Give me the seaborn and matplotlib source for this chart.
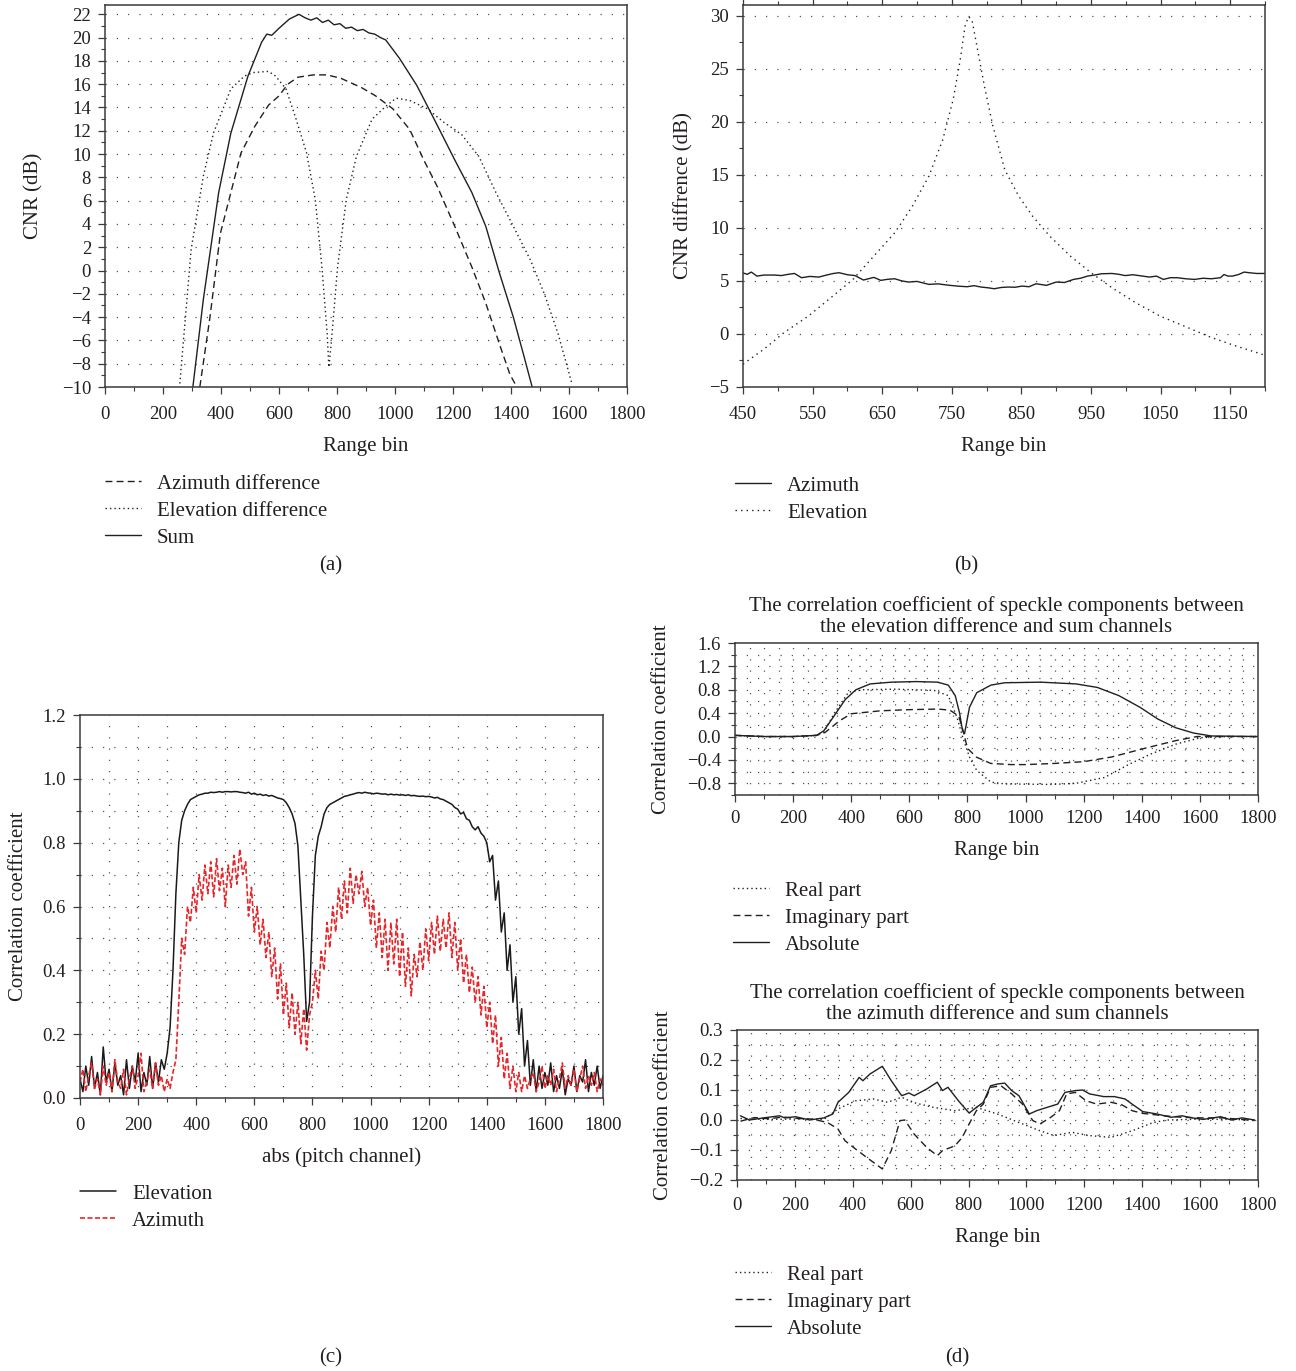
import numpy as np
import matplotlib
matplotlib.use("Agg")
import matplotlib.pyplot as plt
import seaborn as sns
from matplotlib.ticker import MultipleLocator, FuncFormatter

# ---------------- data ----------------
# (a) CNR per channel
a_sum_x = [303, 339, 392, 434, 493, 540, 558, 575, 600, 636, 669, 690, 710, 730, 750, 770, 790, 810, 830, 850,
           870, 890, 910, 930, 950, 968, 1016, 1075, 1135, 1206, 1265, 1313, 1360, 1408, 1443, 1473]
a_sum_y = [-10.0, -2.5, 6.7, 11.8, 16.7, 19.6, 20.3, 20.2, 20.8, 21.6, 22.0, 21.7, 21.5, 21.7, 21.3, 21.5, 21.1,
           21.2, 20.8, 20.9, 20.6, 20.7, 20.4, 20.3, 20.0, 19.8, 18.2, 15.9, 13.0, 9.5, 6.7, 3.8, -0.2, -4.0, -7.2, -10.0]
a_az_x = [327, 362, 398, 434, 469, 517, 564, 600, 630, 665, 719, 766, 814, 885, 933, 992, 1051, 1099, 1146, 1206,
          1265, 1313, 1360, 1396, 1420]
a_az_y = [-10.0, -4.0, 3.2, 6.7, 10.1, 12.4, 14.2, 15.0, 16.0, 16.6, 16.8, 16.8, 16.5, 15.7, 15.0, 13.9, 12.1, 9.5,
          7.2, 3.8, 0.3, -2.8, -6.3, -8.9, -10.0]
a_el_x = [258, 297, 339, 374, 434, 481, 511, 564, 588, 624, 659, 695, 725, 748, 766, 772, 780, 802, 832, 867, 921,
          968, 1004, 1051, 1111, 1170, 1229, 1289, 1348, 1408, 1467, 1515, 1562, 1610]
a_el_y = [-9.7, 1.8, 8.1, 11.8, 15.6, 16.7, 17.0, 17.1, 16.7, 15.6, 13.0, 10.1, 6.1, 0.3, -5.4, -8.3, -6.3, 0.3, 6.1,
          9.8, 13.0, 14.1, 14.8, 14.6, 13.9, 12.7, 11.7, 9.8, 6.7, 3.8, 0.9, -2.0, -5.4, -9.7]

# (b) CNR difference
b_az_x = [450, 456, 462, 470, 480, 495, 505, 515, 524, 534, 546, 559, 570, 580, 588, 600, 611, 623, 638, 648, 658,
          668, 678, 688, 700, 717, 730, 747, 760, 772, 782, 792, 802, 811, 821, 831, 841, 851, 861, 871, 886, 900,
          912, 925, 935, 945, 955, 965, 980, 990, 999, 1010, 1019, 1034, 1044, 1054, 1064, 1074, 1086, 1099, 1111,
          1123, 1136, 1141, 1147, 1153, 1162, 1170, 1180, 1188, 1200]
b_az_y = [5.75, 5.62, 5.83, 5.45, 5.55, 5.55, 5.50, 5.62, 5.70, 5.30, 5.42, 5.36, 5.55, 5.70, 5.77, 5.58, 5.50, 5.08,
          5.33, 5.05, 5.15, 5.20, 5.00, 4.89, 4.95, 4.67, 4.72, 4.58, 4.50, 4.45, 4.55, 4.42, 4.35, 4.26, 4.38, 4.42,
          4.40, 4.51, 4.45, 4.73, 4.58, 4.89, 4.85, 5.14, 5.25, 5.45, 5.55, 5.67, 5.70, 5.62, 5.50, 5.58, 5.50, 5.36,
          5.45, 5.14, 5.30, 5.30, 5.20, 5.14, 5.25, 5.20, 5.30, 5.60, 5.45, 5.45, 5.60, 5.83, 5.75, 5.70, 5.70]
b_el_x = [450, 480, 509, 544, 579, 608, 638, 668, 693, 717, 737, 752, 762, 769, 774, 779, 787, 797, 809, 826, 846,
          866, 891, 921, 950, 980, 1014, 1049, 1089, 1123, 1158, 1200]
b_el_y = [-2.85, -1.44, 0.13, 1.69, 3.57, 5.14, 7.34, 9.53, 12.0, 14.86, 18.3, 22.1, 25.8, 29.0, 29.9, 29.6, 26.8,
          23.3, 19.6, 15.5, 13.0, 11.1, 9.2, 7.3, 5.77, 4.36, 2.95, 1.69, 0.6, -0.34, -1.13, -2.0]

# (c) correlation coefficient, one value per 10 range bins (rows of 100 bins)
c_bins = np.arange(0, 1801, 10)
c_elev = [0.06, 0.02, 0.10, 0.04, 0.13, 0.03, 0.08, 0.01, 0.16, 0.05,
          0.09, 0.02, 0.11, 0.04, 0.07, 0.01, 0.12, 0.03, 0.10, 0.05,
          0.14, 0.02, 0.08, 0.04, 0.13, 0.03, 0.11, 0.05, 0.12, 0.09,
          0.14, 0.22, 0.40, 0.64, 0.80, 0.87, 0.90, 0.92, 0.935, 0.94,
          0.945, 0.95, 0.952, 0.955, 0.955, 0.958, 0.957, 0.958, 0.96, 0.958,
          0.96, 0.96, 0.959, 0.96, 0.96, 0.958, 0.957, 0.955, 0.958, 0.952,
          0.955, 0.95, 0.952, 0.948, 0.95, 0.946, 0.948, 0.944, 0.94, 0.938,
          0.935, 0.925, 0.91, 0.89, 0.86, 0.79, 0.62, 0.45, 0.24, 0.30,
          0.57, 0.76, 0.82, 0.85, 0.89, 0.91, 0.92, 0.925, 0.93, 0.935,
          0.94, 0.945, 0.947, 0.95, 0.952, 0.955, 0.957, 0.955, 0.958, 0.956,
          0.955, 0.953, 0.955, 0.954, 0.952, 0.953, 0.95, 0.952, 0.95, 0.951,
          0.949, 0.95, 0.948, 0.95, 0.947, 0.948, 0.946, 0.945, 0.946, 0.944,
          0.945, 0.943, 0.94, 0.942, 0.937, 0.935, 0.93, 0.925, 0.92, 0.91,
          0.905, 0.89, 0.895, 0.875, 0.87, 0.85, 0.84, 0.85, 0.83, 0.82,
          0.80, 0.74, 0.76, 0.62, 0.68, 0.52, 0.58, 0.40, 0.48, 0.30,
          0.38, 0.20, 0.28, 0.10, 0.18, 0.04, 0.12, 0.02, 0.10, 0.03,
          0.08, 0.04, 0.11, 0.02, 0.07, 0.03, 0.09, 0.01, 0.06, 0.04,
          0.10, 0.02, 0.07, 0.05, 0.12, 0.02, 0.08, 0.04, 0.10, 0.03,
          0.07]
c_azim = [0.05, 0.09, 0.02, 0.07, 0.11, 0.03, 0.06, 0.01, 0.10, 0.04,
          0.08, 0.02, 0.12, 0.05, 0.03, 0.09, 0.01, 0.06, 0.10, 0.03,
          0.07, 0.14, 0.02, 0.05, 0.09, 0.03, 0.11, 0.04, 0.07, 0.02,
          0.06, 0.03, 0.08, 0.12, 0.30, 0.50, 0.45, 0.60, 0.55, 0.66,
          0.58, 0.70, 0.62, 0.73, 0.64, 0.74, 0.63, 0.75, 0.65, 0.72,
          0.60, 0.73, 0.66, 0.76, 0.67, 0.78, 0.70, 0.74, 0.57, 0.66,
          0.52, 0.60, 0.48, 0.56, 0.44, 0.52, 0.38, 0.47, 0.31, 0.42,
          0.26, 0.36, 0.22, 0.33, 0.20, 0.30, 0.17, 0.28, 0.15, 0.26,
          0.30, 0.40, 0.31, 0.46, 0.40, 0.55, 0.47, 0.60, 0.52, 0.66,
          0.56, 0.68, 0.58, 0.72, 0.61, 0.70, 0.64, 0.71, 0.60, 0.66,
          0.54, 0.62, 0.47, 0.58, 0.44, 0.56, 0.40, 0.55, 0.42, 0.56,
          0.38, 0.52, 0.35, 0.47, 0.32, 0.45, 0.38, 0.49, 0.40, 0.53,
          0.43, 0.55, 0.45, 0.57, 0.46, 0.56, 0.47, 0.58, 0.44, 0.55,
          0.40, 0.50, 0.36, 0.45, 0.33, 0.41, 0.30, 0.38, 0.26, 0.35,
          0.22, 0.30, 0.17, 0.26, 0.10, 0.19, 0.06, 0.14, 0.03, 0.10,
          0.02, 0.08, 0.02, 0.07, 0.03, 0.06, 0.08, 0.02, 0.05, 0.10,
          0.03, 0.07, 0.04, 0.09, 0.02, 0.06, 0.11, 0.03, 0.07, 0.04,
          0.09, 0.02, 0.06, 0.10, 0.03, 0.07, 0.04, 0.08, 0.02, 0.06,
          0.04]

# (d) top: elevation difference vs sum
d1_abs_x = [0, 100, 200, 281, 306, 342, 379, 416, 465, 538, 624, 697, 734, 758, 773, 783, 790, 807, 832, 881, 929,
            1052, 1174, 1247, 1321, 1394, 1455, 1517, 1578, 1639, 1800]
d1_abs_y = [0.02, 0.0, 0.0, 0.02, 0.10, 0.36, 0.63, 0.80, 0.90, 0.93, 0.94, 0.93, 0.88, 0.70, 0.40, 0.10, 0.05,
            0.50, 0.75, 0.88, 0.92, 0.93, 0.90, 0.84, 0.70, 0.50, 0.30, 0.15, 0.06, 0.01, 0.0]
d1_re_x = [0, 100, 200, 281, 306, 342, 391, 440, 550, 685, 734, 764, 783, 807, 832, 881, 929, 1088, 1174, 1272,
           1358, 1431, 1517, 1602, 1700, 1800]
d1_re_y = [0.02, 0.0, 0.0, 0.02, 0.08, 0.40, 0.76, 0.80, 0.81, 0.79, 0.70, 0.33, 0.0, -0.35, -0.58, -0.78, -0.81,
           -0.82, -0.80, -0.70, -0.47, -0.30, -0.13, -0.02, 0.0, 0.0]
d1_im_x = [0, 100, 200, 281, 310, 360, 400, 500, 600, 700, 740, 770, 785, 790, 800, 830, 880, 950, 1000, 1100,
           1200, 1296, 1419, 1517, 1590, 1700, 1800]
d1_im_y = [0.02, 0.0, 0.0, 0.02, 0.07, 0.27, 0.39, 0.44, 0.46, 0.47, 0.45, 0.35, 0.10, 0.0, -0.20, -0.35, -0.46,
           -0.48, -0.48, -0.46, -0.43, -0.35, -0.19, -0.07, 0.0, 0.0, 0.0]

# (d) bottom: azimuth difference vs sum
d2_abs_x = [12, 43, 92, 147, 165, 202, 251, 300, 331, 349, 386, 422, 435, 459, 502, 533, 569, 594, 612, 655, 692,
            710, 729, 765, 802, 827, 851, 876, 900, 925, 949, 974, 1010, 1035, 1071, 1108, 1133, 1169, 1194, 1218,
            1267, 1304, 1341, 1365, 1402, 1451, 1500, 1537, 1573, 1610, 1671, 1708, 1745, 1788]
d2_abs_y = [0.014, 0.0, 0.007, 0.014, 0.007, 0.011, 0.0, 0.007, 0.02, 0.059, 0.092, 0.142, 0.131, 0.153, 0.179,
            0.131, 0.081, 0.09, 0.081, 0.103, 0.126, 0.098, 0.109, 0.064, 0.023, 0.042, 0.059, 0.114, 0.12, 0.123,
            0.098, 0.081, 0.02, 0.031, 0.042, 0.053, 0.092, 0.098, 0.10, 0.087, 0.078, 0.078, 0.07, 0.053, 0.028,
            0.02, 0.009, 0.014, 0.007, 0.002, 0.011, 0.0, 0.007, 0.0]
d2_re_x = [12, 100, 200, 300, 349, 410, 471, 520, 569, 606, 679, 753, 827, 900, 986, 1047, 1096, 1157, 1218, 1292,
           1365, 1439, 1488, 1600, 1700, 1788]
d2_re_y = [0.005, 0.002, 0.003, 0.002, 0.037, 0.064, 0.07, 0.059, 0.076, 0.059, 0.042, 0.031, 0.042, 0.02, -0.013,
           -0.036, -0.052, -0.041, -0.052, -0.058, -0.036, -0.008, 0.0, 0.003, 0.002, 0.0]
d2_im_x = [12, 60, 110, 160, 210, 260, 312, 349, 373, 410, 447, 502, 533, 563, 580, 612, 655, 692, 710, 753, 778,
           802, 827, 851, 876, 912, 949, 986, 1022, 1047, 1084, 1114, 1139, 1169, 1206, 1243, 1292, 1329, 1365,
           1402, 1476, 1537, 1610, 1682, 1788]
d2_im_y = [-0.004, 0.008, 0.004, 0.01, 0.005, 0.003, -0.008, -0.03, -0.069, -0.097, -0.124, -0.163, -0.102,
           -0.002, 0.0, -0.047, -0.091, -0.119, -0.102, -0.086, -0.058, -0.013, 0.031, 0.053, 0.109, 0.114, 0.087,
           0.053, -0.002, -0.013, 0.009, 0.031, 0.087, 0.092, 0.064, 0.053, 0.059, 0.051, 0.031, 0.022, 0.014,
           0.009, 0.007, 0.007, -0.002]

# ---------------- style ----------------
sns.set_theme(style="ticks")
plt.rcParams["font.family"] = ["Liberation Serif", "DejaVu Serif"]
plt.rcParams["axes.unicode_minus"] = True

W, H = 1296, 1371
fig = plt.figure(figsize=(W / 100, H / 100), dpi=100)
INK = "#231f20"
SPINE = "#3a3a3a"
TICK_FS = 13.5
LAB_FS = 15


def px_axes(l, t, r, b):
    return fig.add_axes([l / W, 1 - b / H, (r - l) / W, (b - t) / H])


def style(ax, xpad=8.5):
    for s in ax.spines.values():
        s.set_visible(True)
        s.set_color(SPINE)
        s.set_linewidth(1.1)
    ax.tick_params(which="major", direction="out", length=5, width=0.9, color=SPINE,
                   labelsize=TICK_FS, pad=5, labelcolor=INK)
    ax.tick_params(which="minor", direction="out", length=3, width=0.8, color=SPINE)
    ax.tick_params(axis="x", which="major", pad=xpad)
    ax.set_facecolor("white")


def dotgrid(ax, xs=(), ys=()):
    for y in ys:
        ax.axhline(y, color="#555555", lw=0.9, ls=(0, (1, 8)), zorder=0)
    for x in xs:
        ax.axvline(x, color="#555555", lw=0.9, ls=(0, (1, 8)), zorder=0)


def minus_fmt(fmt):
    return FuncFormatter(lambda v, p: (fmt % v).replace("-", "\u2212") if abs(v) > 1e-9 else fmt % 0)


def line(ax, x, y, ls, color=INK, lw=1.0):
    sns.lineplot(x=x, y=y, ax=ax, color=color, lw=lw, linestyle=ls, sort=False, estimator=None)
    return ax.lines[-1]


def legend(handles, labels, x, ytop):
    fig.legend(handles, labels, loc="upper left", bbox_to_anchor=(x / W, 1 - ytop / H),
               bbox_transform=fig.transFigure, frameon=False, fontsize=LAB_FS, handlelength=1.75,
               handletextpad=0.75, labelspacing=0.36, borderpad=0, borderaxespad=0, labelcolor=INK)


DASH = (0, (5, 3))
DOT = (0, (1, 2.2))

# ---------------- (a) ----------------
ax = px_axes(105, 5, 627, 387)
style(ax)
dotgrid(ax, ys=np.arange(-8, 23, 2))
h1 = line(ax, a_az_x, a_az_y, DASH)
h2 = line(ax, a_el_x, a_el_y, DOT)
h3 = line(ax, a_sum_x, a_sum_y, "-")
ax.set_xlim(0, 1800)
ax.set_ylim(-10, 22.8)
ax.xaxis.set_major_locator(MultipleLocator(200))
ax.xaxis.set_minor_locator(MultipleLocator(100))
ax.yaxis.set_major_locator(MultipleLocator(2))
ax.yaxis.set_minor_locator(MultipleLocator(1))
ax.yaxis.set_major_formatter(minus_fmt("%d"))
ax.set_xlabel("Range bin", fontsize=LAB_FS, color=INK)
ax.set_ylabel("CNR (dB)", fontsize=LAB_FS, color=INK)
ax.xaxis.set_label_coords(0.5, -0.13)
ax.yaxis.set_label_coords(-0.118, 0.5)
legend([h1, h2, h3], ["Azimuth difference", "Elevation difference", "Sum"], 105, 474)
fig.text(331 / W, 1 - 566 / H, "(a)", ha="center", va="center", fontsize=LAB_FS, color=INK)

# ---------------- (b) ----------------
ax = px_axes(743, 5, 1265, 387)
style(ax)
dotgrid(ax, ys=np.arange(0, 31, 5))
h1 = line(ax, b_az_x, b_az_y, "-")
h2 = line(ax, b_el_x, b_el_y, (0, (1, 3)))
ax.set_xlim(450, 1200)
ax.set_ylim(-5, 31)
ax.set_xticks(np.arange(450, 1151, 100))
ax.xaxis.set_minor_locator(MultipleLocator(50))
ax.yaxis.set_major_locator(MultipleLocator(5))
ax.yaxis.set_minor_locator(MultipleLocator(2.5))
ax.yaxis.set_major_formatter(minus_fmt("%d"))
ax.tick_params(which="both", top=True)
ax.set_xlabel("Range bin", fontsize=LAB_FS, color=INK)
ax.set_ylabel("CNR diffrence (dB)", fontsize=LAB_FS, color=INK)
ax.xaxis.set_label_coords(0.5, -0.13)
ax.yaxis.set_label_coords(-0.094, 0.5)
legend([h1, h2], ["Azimuth", "Elevation"], 735, 476)
fig.text(966 / W, 1 - 566 / H, "(b)", ha="center", va="center", fontsize=LAB_FS, color=INK)

# ---------------- (c) ----------------
ax = px_axes(80, 715, 603, 1098)
style(ax)
dotgrid(ax, xs=np.arange(100, 1800, 100), ys=np.arange(0.1, 1.15, 0.1))
h1 = line(ax, c_bins, c_elev, "-", color="#1a1a1a", lw=1.1)
h2 = line(ax, c_bins, c_azim, (0, (3, 1.5)), color="#e8262a", lw=1.2)
ax.set_xlim(0, 1800)
ax.set_ylim(0, 1.2)
ax.xaxis.set_major_locator(MultipleLocator(200))
ax.xaxis.set_minor_locator(MultipleLocator(100))
ax.yaxis.set_major_locator(MultipleLocator(0.2))
ax.yaxis.set_minor_locator(MultipleLocator(0.1))
ax.yaxis.set_major_formatter(minus_fmt("%.1f"))
ax.set_xlabel("abs (pitch channel)", fontsize=LAB_FS, color=INK)
ax.set_ylabel("Correlation coefficient", fontsize=LAB_FS, color=INK)
ax.xaxis.set_label_coords(0.5, -0.128)
ax.yaxis.set_label_coords(-0.099, 0.5)
legend([h1, h2], ["Elevation", "Azimuth"], 80, 1184)
fig.text(331 / W, 1 - 1358 / H, "(c)", ha="center", va="center", fontsize=LAB_FS, color=INK)

# ---------------- (d) top ----------------
ax = px_axes(735, 643, 1258, 795)
style(ax, xpad=6)
dotgrid(ax, xs=np.arange(50, 1800, 50), ys=np.arange(-0.8, 1.5, 0.2))
h1 = line(ax, d1_re_x, d1_re_y, DOT)
h2 = line(ax, d1_im_x, d1_im_y, DASH)
h3 = line(ax, d1_abs_x, d1_abs_y, "-")
ax.set_xlim(0, 1800)
ax.set_ylim(-1.0, 1.6)
ax.xaxis.set_major_locator(MultipleLocator(200))
ax.xaxis.set_minor_locator(MultipleLocator(100))
ax.set_yticks([-0.8, -0.4, 0.0, 0.4, 0.8, 1.2, 1.6])
ax.yaxis.set_minor_locator(MultipleLocator(0.2))
ax.yaxis.set_major_formatter(minus_fmt("%.1f"))
ax.set_title("The correlation coefficient of speckle components between\nthe elevation difference and sum channels",
             fontsize=LAB_FS, color=INK, pad=8, linespacing=1.15)
ax.set_xlabel("Range bin", fontsize=LAB_FS, color=INK)
ax.set_ylabel("Correlation coefficient", fontsize=LAB_FS, color=INK)
ax.xaxis.set_label_coords(0.5, -0.305)
ax.yaxis.set_label_coords(-0.122, 0.5)
legend([h1, h2, h3], ["Real part", "Imaginary part", "Absolute"], 733, 881)

# ---------------- (d) bottom ----------------
ax = px_axes(737, 1030, 1258, 1180)
style(ax, xpad=7)
dotgrid(ax, xs=np.arange(50, 1800, 50), ys=np.arange(-0.15, 0.26, 0.05))
h1 = line(ax, d2_re_x, d2_re_y, DOT)
h2 = line(ax, d2_im_x, d2_im_y, DASH)
h3 = line(ax, d2_abs_x, d2_abs_y, "-")
ax.set_xlim(0, 1800)
ax.set_ylim(-0.2, 0.3)
ax.xaxis.set_major_locator(MultipleLocator(200))
ax.xaxis.set_minor_locator(MultipleLocator(100))
ax.yaxis.set_major_locator(MultipleLocator(0.1))
ax.yaxis.set_minor_locator(MultipleLocator(0.05))
ax.yaxis.set_major_formatter(minus_fmt("%.1f"))
ax.set_title("The correlation coefficient of speckle components between\nthe azimuth difference and sum channels",
             fontsize=LAB_FS, color=INK, pad=8, linespacing=1.15)
ax.set_xlabel("Range bin", fontsize=LAB_FS, color=INK)
ax.set_ylabel("Correlation coefficient", fontsize=LAB_FS, color=INK)
ax.xaxis.set_label_coords(0.5, -0.32)
ax.yaxis.set_label_coords(-0.123, 0.5)
legend([h1, h2, h3], ["Real part", "Imaginary part", "Absolute"], 735, 1265)
fig.text(957 / W, 1 - 1358 / H, "(d)", ha="center", va="center", fontsize=LAB_FS, color=INK)

fig.savefig("out.png", dpi=100, facecolor="white")
